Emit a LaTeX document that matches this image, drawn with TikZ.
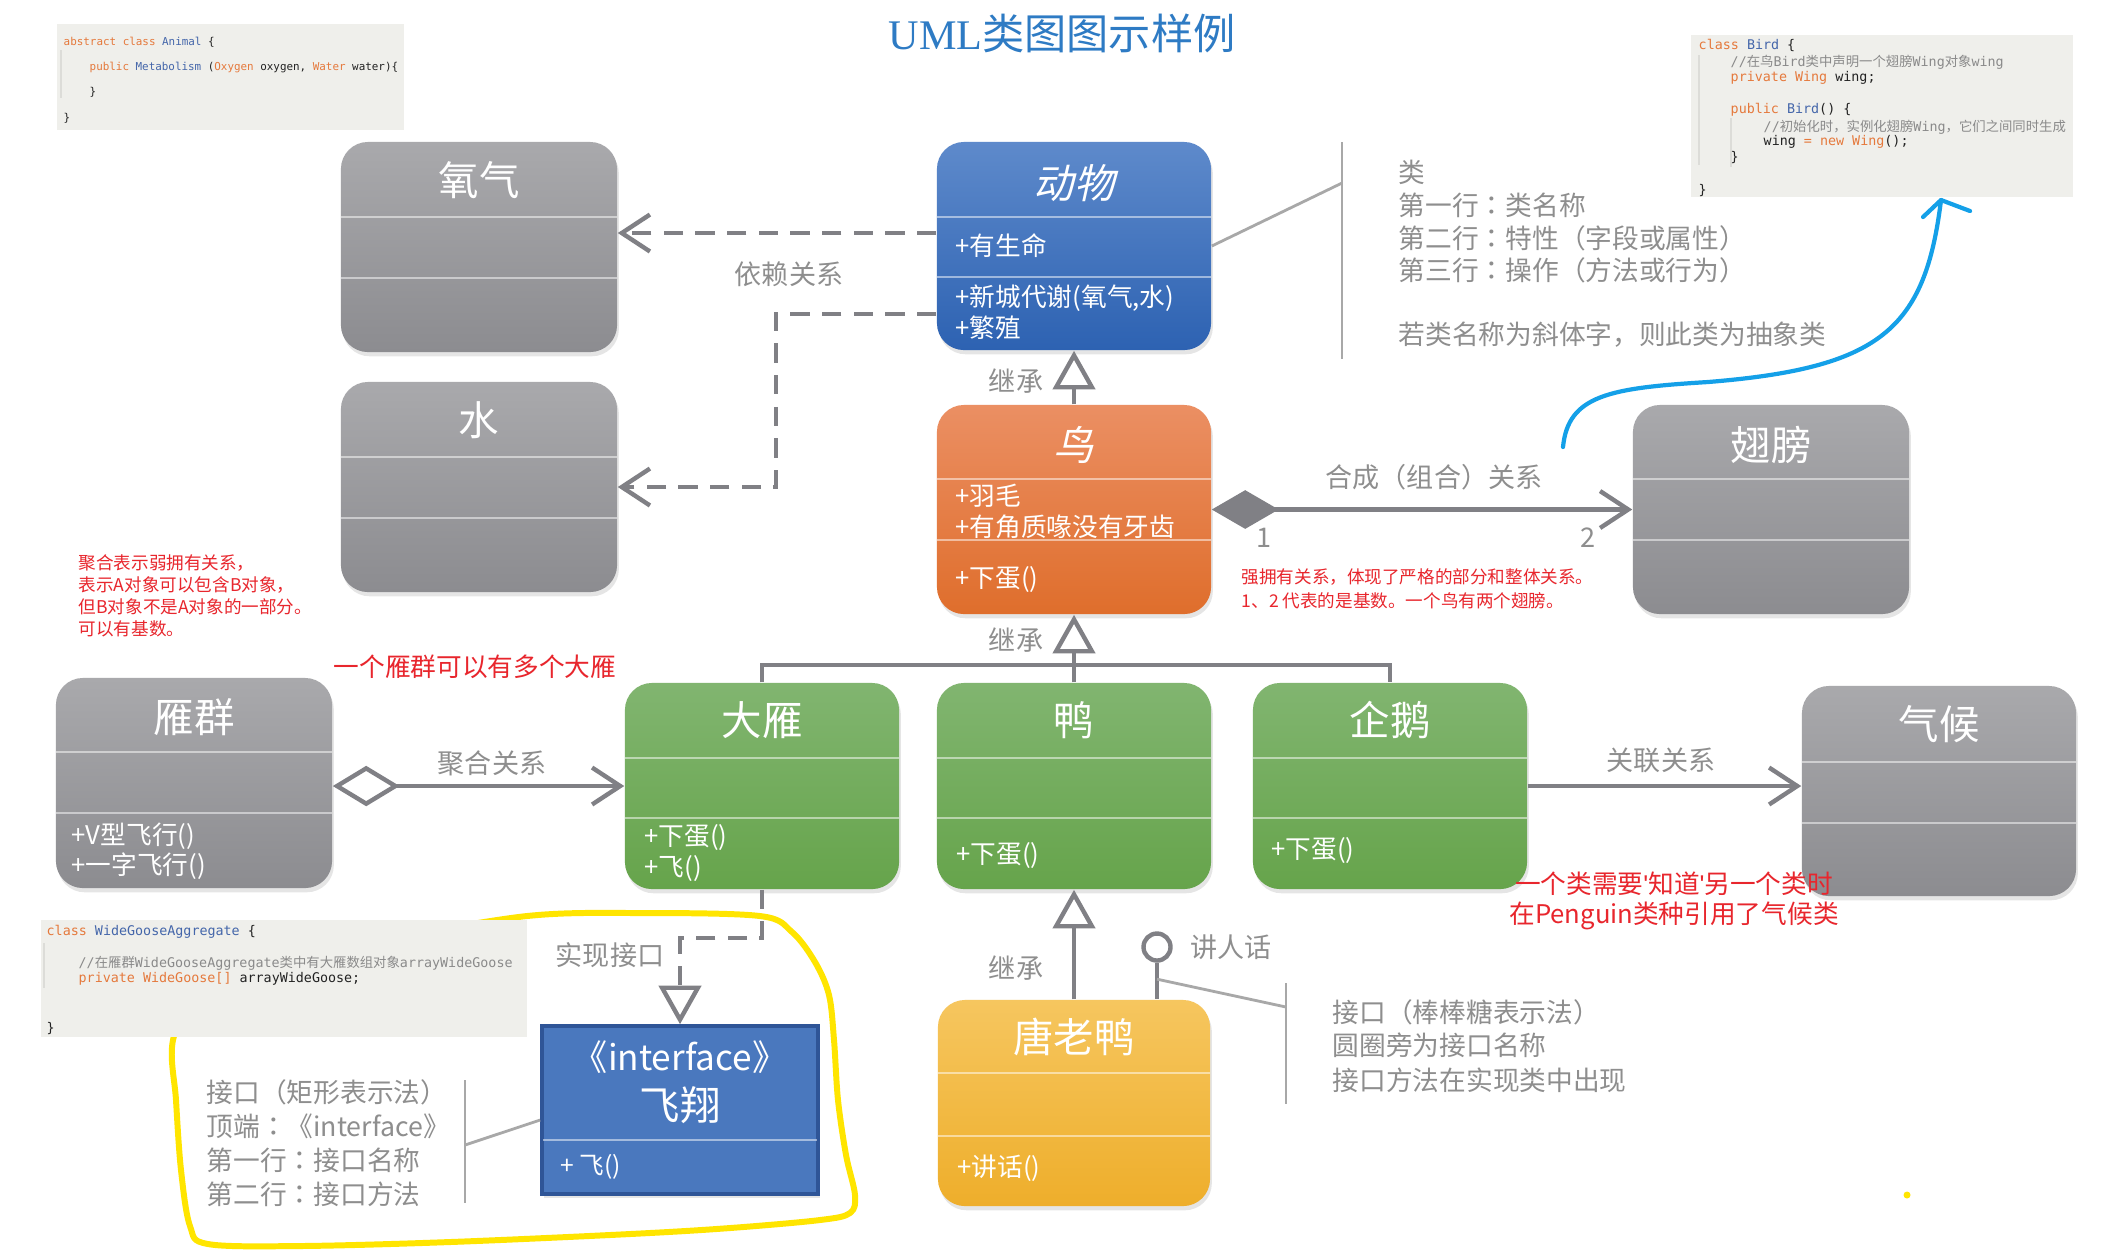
\documentclass[tikz,border=0pt]{standalone}
\usepackage{fontspec}
\setmainfont{Noto Sans CJK SC}
\newfontfamily\zhfont{Noto Sans CJK SC}
\newfontfamily\zhtc{Noto Sans CJK TC}
\newfontfamily\zhit[FakeSlant=0.22]{Noto Sans CJK SC}
\newfontfamily\codefont{DejaVu Sans Mono}
\newfontfamily\titleserif{Liberation Serif}
\newfontfamily\latq{Liberation Sans}
\usetikzlibrary{arrows.meta,shadows,calc}
\definecolor{grayT}{HTML}{A9A9AC}
\definecolor{grayB}{HTML}{8C8C90}
\definecolor{blueT}{HTML}{5E8ACB}
\definecolor{blueB}{HTML}{2D62B2}
\definecolor{orT}{HTML}{EB8F63}
\definecolor{orB}{HTML}{DF6E2C}
\definecolor{grT}{HTML}{81B570}
\definecolor{grB}{HTML}{66A44B}
\definecolor{yeT}{HTML}{F6C65F}
\definecolor{yeB}{HTML}{EEAE2B}
\definecolor{ifc}{HTML}{4A78BE}
\definecolor{ifcb}{HTML}{2F5597}
\definecolor{lineg}{HTML}{808085}
\definecolor{noteg}{HTML}{8E8E8E}
\definecolor{notel}{HTML}{A8A8A8}
\definecolor{redc}{HTML}{E8262D}
\definecolor{titlec}{HTML}{2E7BC4}
\definecolor{kwc}{HTML}{E5793C}
\definecolor{cnc}{HTML}{4466AA}
\definecolor{cmc}{HTML}{8A8A8A}
\definecolor{codeblack}{HTML}{222222}
\definecolor{codebg}{HTML}{EFEFEB}
\definecolor{guidec}{HTML}{DCDCD8}
\definecolor{yellowc}{HTML}{FFE500}
\definecolor{bluec}{HTML}{14A0E8}
\newcommand\zh[1]{{\zhfont #1}}
\newcommand\cln{{\zhtc ：}}
\newcommand\kwd[1]{\textcolor{kwc}{#1}}
\newcommand\cnm[1]{\textcolor{cnc}{#1}}
\newcommand\cmt[1]{\textcolor{cmc}{#1}}
\tikzset{
  openhd/.tip={Straight Barb[length=8pt,width=10.5pt]},
  inhtri/.tip={Triangle[open,length=11pt,width=12pt]},
  fdia/.tip={Diamond[length=19pt,width=11pt]},
  odia/.tip={Diamond[open,length=19pt,width=11.5pt]},
  cls/.style={rectangle, rounded corners=0.27cm, inner sep=0pt, draw=none,
    drop shadow={shadow xshift=0.5pt, shadow yshift=-1.2pt, opacity=0.2}},
  cname/.style={text=white, inner sep=0pt, font=\fontsize{11.5}{13}\selectfont},
  cnameit/.style={text=white, inner sep=0pt, font=\zhit\fontsize{11.5}{13}\selectfont},
  attr/.style={text=white, anchor=west, inner sep=0pt, font=\fontsize{7.3}{8.5}\selectfont},
  divline/.style={draw=white, draw opacity=0.5, line width=0.7pt},
  conn/.style={draw=lineg, line width=1.25pt},
  dashconn/.style={conn, dash pattern=on 5.5pt off 3.5pt},
  lbl/.style={text=noteg, inner sep=0pt, font=\fontsize{7.7}{9}\selectfont},
  note/.style={text=noteg, anchor=west, inner sep=0pt, font=\fontsize{7.6}{9}\selectfont},
  noteline/.style={draw=notel, line width=0.8pt},
  rednote/.style={text=redc, anchor=west, inner sep=0pt, font=\fontsize{5}{6}\selectfont},
  redbig/.style={text=redc, inner sep=0pt, font=\fontsize{7.3}{9}\selectfont},
  codebox/.style={rectangle, fill=codebg, draw=none, inner sep=0pt},
  codea/.style={anchor=west, inner sep=0pt, text=codeblack, font=\codefont\fontsize{3.1}{3.8}\selectfont},
  codeb/.style={anchor=west, inner sep=0pt, text=codeblack, font=\codefont\fontsize{3.8}{4.6}\selectfont},
  guide/.style={draw=guidec, line width=0.4pt},
  yellowline/.style={draw=yellowc, line width=1.7pt, line cap=round, line join=round},
  bluestroke/.style={draw=bluec, line width=1.2pt, line cap=round, line join=round}
}
\begin{document}
\begin{tikzpicture}[x=0.01cm,y=-0.01cm]
\fill[white] (0,0) rectangle (2125,1253);
\useasboundingbox (0,0) rectangle (2125,1253);

% yellow hand-drawn highlight (partly under the code box)
\draw[yellowline] plot[smooth, tension=0.55] coordinates {(380,940) (527,916) (640,913) (760,916) (792,932) (815,962) (829,995) (834,1040) (838,1100) (846,1155) (855,1195) (850,1213) (820,1220) (730,1228) (630,1234) (450,1242) (300,1246) (208,1244) (190,1226) (181,1170) (176,1100) (173,1040) (200,980)};
\node[circle, fill=yellowc, minimum size=0.07cm, inner sep=0pt] (ydot) at (1907,1195) {};

% title
\node[inner sep=0pt, text=titlec, font=\fontsize{12}{14}\selectfont] (title) at (1062,33) {{\titleserif UML}类图图示样例};

% ---- code boxes
\node[codebox, minimum width=3.47cm, minimum height=1.06cm] (animalcode) at (230.5,77) {};
\draw[guide] (61,50) -- (61,98);
\node[codea] (ta1) at (63,42) {\kwd{abstract class} \cnm{Animal} \{};
\node[codea] (ta2) at (89,67) {\kwd{public} \cnm{Metabolism} (\kwd{Oxygen} oxygen, \kwd{Water} water)\{};
\node[codea] (ta3) at (89,92) {\}};
\node[codea] (ta4) at (63,118) {\}};

\node[codebox, minimum width=3.82cm, minimum height=1.62cm] (birdcode) at (1882,116) {};
\draw[guide] (1699,55) -- (1699,165);
\draw[guide] (1731,118) -- (1731,167);
\node[codeb] (tb1) at (1698,45) {\kwd{class} \cnm{Bird} \{};
\node[codeb] (tb2) at (1730,62) {\cmt{//\zh{在鸟}Bird\zh{类中声明一个翅膀}Wing\zh{对象}wing}};
\node[codeb] (tb3) at (1730,78) {\kwd{private Wing} wing;};
\node[codeb] (tb4) at (1730,110) {\kwd{public} \cnm{Bird}() \{};
\node[codeb] (tb5) at (1763,127) {\cmt{//\zh{初始化时，实例化翅膀}Wing\zh{，它们之间同时生成}}};
\node[codeb] (tb6) at (1763,142) {wing \kwd{= new Wing}();};
\node[codeb] (tb7) at (1730,157) {\}};
\node[codeb] (tb8) at (1698,190) {\}};

\node[codebox, minimum width=4.86cm, minimum height=1.17cm] (goosecode) at (284,978.5) {};
\draw[guide] (44,943) -- (44,988);
\node[codeb] (tc1) at (46,932) {\kwd{class} \cnm{WideGooseAggregate} \{};
\node[codeb] (tc2) at (78,963) {\cmt{//\zh{在雁群}WideGooseAggregate\zh{类中有大雁数组对象}arrayWideGoose}};
\node[codeb] (tc3) at (78,979) {\kwd{private WideGoose[]} arrayWideGoose;};
\node[codeb] (tc4) at (46,1028) {\}};

% ---- annotation bars and texts
\draw[noteline] (1342,142) -- (1342,359);
\draw[noteline] (1286,983) -- (1286,1104);
\draw[noteline] (465,1080) -- (465,1203);

\node[note] (n1) at (1398,172) {类};
\node[note] (n2) at (1398,205) {第一行\cln 类名称};
\node[note] (n3) at (1398,238) {第二行\cln 特性（字段或属性）};
\node[note] (n4) at (1398,270) {第三行\cln 操作（方法或行为）};
\node[note] (n5) at (1398,335) {若类名称为斜体字，则此类为抽象类};

\node[note] (m1) at (1332,1012) {接口（棒棒糖表示法）};
\node[note] (m2) at (1332,1045) {圆圈旁为接口名称};
\node[note] (m3) at (1332,1080) {接口方法在实现类中出现};

\node[note] (k1) at (206,1092) {接口（矩形表示法）};
\node[note] (k2) at (206,1126) {顶端\cln 《interface》};
\node[note] (k3) at (206,1160) {第一行\cln 接口名称};
\node[note] (k4) at (206,1194) {第二行\cln 接口方法};

% ---- class boxes
\node[cls, top color=grayT, bottom color=grayB, minimum width=2.76cm, minimum height=2.10cm] (oxygen) at (479,247) {};
\draw[divline] (341,217) -- (617,217); \draw[divline] (341,278) -- (617,278);
\node[cname] (oxygenname) at (479,180) {氧气};

\node[cls, top color=grayT, bottom color=grayB, minimum width=2.76cm, minimum height=2.10cm] (water) at (479,487) {};
\draw[divline] (341,457) -- (617,457); \draw[divline] (341,518) -- (617,518);
\node[cname] (watername) at (479,420) {水};

\node[cls, top color=blueT, bottom color=blueB, minimum width=2.74cm, minimum height=2.08cm] (animal) at (1074,246) {};
\draw[divline] (937,217) -- (1211,217); \draw[divline] (937,277) -- (1211,277);
\node[cnameit] (animalname) at (1074,183) {动物};
\node[attr] (animala1) at (955,246) {+有生命};
\node[attr] (animalm1) at (955,298) {+新城代谢(氧气,水)};
\node[attr] (animalm2) at (955,328) {+繁殖};

\node[cls, top color=orT, bottom color=orB, minimum width=2.74cm, minimum height=2.09cm] (bird) at (1074,509.5) {};
\draw[divline] (937,479) -- (1211,479); \draw[divline] (937,540) -- (1211,540);
\node[cnameit] (birdname) at (1074,445) {鸟};
\node[attr] (birda1) at (955,496) {+羽毛};
\node[attr] (birda2) at (955,527) {+有角质喙没有牙齿};
\node[attr] (birdm1) at (955,579) {+下蛋()};

\node[cls, top color=grayT, bottom color=grayB, minimum width=2.76cm, minimum height=2.09cm] (wing) at (1771,509.5) {};
\draw[divline] (1633,479) -- (1909,479); \draw[divline] (1633,540) -- (1909,540);
\node[cname] (wingname) at (1771,445) {翅膀};

\node[cls, top color=grayT, bottom color=grayB, minimum width=2.76cm, minimum height=2.10cm] (flock) at (194,783) {};
\draw[divline] (56,752) -- (332,752); \draw[divline] (56,813) -- (332,813);
\node[cname] (flockname) at (194,717) {雁群};
\node[attr] (flockm1) at (71,836) {+V型飞行()};
\node[attr] (flockm2) at (71,866) {+一字飞行()};

\node[cls, top color=grT, bottom color=grB, minimum width=2.74cm, minimum height=2.06cm] (goose) at (762,786) {};
\draw[divline] (625,758) -- (899,758); \draw[divline] (625,818) -- (899,818);
\node[cname] (goosename) at (762,720) {大雁};
\node[attr] (goosem1) at (644,837) {+下蛋()};
\node[attr] (goosem2) at (644,868) {+飞()};

\node[cls, top color=grT, bottom color=grB, minimum width=2.74cm, minimum height=2.06cm] (duck) at (1074,786) {};
\draw[divline] (937,758) -- (1211,758); \draw[divline] (937,818) -- (1211,818);
\node[cname] (duckname) at (1074,720) {鸭};
\node[attr] (duckm1) at (956,855) {+下蛋()};

\node[cls, top color=grT, bottom color=grB, minimum width=2.74cm, minimum height=2.06cm] (penguin) at (1390,786) {};
\draw[divline] (1253,758) -- (1527,758); \draw[divline] (1253,818) -- (1527,818);
\node[cname] (penguinname) at (1390,720) {企鹅};
\node[attr] (penguinm1) at (1271,850) {+下蛋()};

\node[cls, top color=grayT, bottom color=grayB, minimum width=2.74cm, minimum height=2.10cm] (climate) at (1939,791) {};
\draw[divline] (1802,762) -- (2076,762); \draw[divline] (1802,823) -- (2076,823);
\node[cname] (climatename) at (1939,724) {气候};

\node[cls, top color=yeT, bottom color=yeB, minimum width=2.72cm, minimum height=2.06cm] (donald) at (1074,1103) {};
\draw[divline] (938,1073) -- (1210,1073); \draw[divline] (938,1136) -- (1210,1136);
\node[cname] (donaldname) at (1074,1037) {唐老鸭};
\node[attr] (donaldm1) at (957,1168) {+讲话()};

\node[rectangle, fill=ifc, draw=ifcb, line width=1pt, inner sep=0pt, minimum width=2.76cm, minimum height=1.68cm,
  drop shadow={shadow xshift=0.5pt, shadow yshift=-1.2pt, opacity=0.2}] (iface) at (680,1110) {};
\draw[divline] (543,1140) -- (817,1140);
\node[text=white, inner sep=0pt, font=\fontsize{10}{12}\selectfont] (ifacest) at (680,1057) {《interface》};
\node[cname] (ifacename) at (680,1105) {飞翔};
\node[attr, font=\fontsize{7}{8}\selectfont] (ifacem1) at (560,1167) {+ 飞()};

% ---- connectors
\coordinate (dep1s) at ([shift={(0,-13)}]animal.west);
\draw[dashconn, -openhd] (dep1s) -- (oxygen.east |- dep1s);
\coordinate (dep2s) at ([shift={(0,68)}]animal.west);
\draw[dashconn, -openhd] (dep2s) -| ([shift={(158,0)}]water.east) -- (water.east);

\draw[conn, -inhtri] (bird.north) -- (animal.south);
\draw[conn, -inhtri] (duck.north) -- (bird.south);
\coordinate (bar) at (1074,665);
\draw[conn] (goose.north) |- (bar) -| (penguin.north);

\draw[conn, fdia-openhd] (bird.east) -- (wing.west);
\draw[conn, odia-openhd] (flock.east |- goose.west) -- (goose.west);
\draw[conn, -openhd] (penguin.east) -- (climate.west |- penguin.east);
\draw[dashconn, -inhtri] (goose.south) |- ([shift={(0,-86)}]iface.north) -- (iface.north);
\draw[conn, -inhtri] (donald.north) -- (duck.south);

\node[circle, draw=lineg, line width=1.25pt, minimum size=0.27cm, inner sep=0pt] (lolli) at (1157,947) {};
\draw[conn] (lolli.south) -- (lolli.south |- donald.north);

% annotation leader lines
\coordinate (clsnote) at (1342,183);
\draw[noteline] (animal.east) -- (clsnote);
\coordinate (lolnote) at (1286,1007);
\draw[noteline] ($(lolli.south)!0.45!(lolli.south |- donald.north)$) -- (lolnote);
\coordinate (ifnote) at (465,1145);
\draw[noteline] (ifnote) -- ([shift={(0,10)}]iface.west);

% ---- connector labels
\node[lbl] (ldep) at (789,274) {依赖关系};
\node[lbl] (linh1) at (1016,381) {继承};
\node[lbl] (lcomp) at (1434,477) {合成（组合）关系};
\node[lbl] (lone) at (1264,538) {1};
\node[lbl] (ltwo) at (1588,538) {2};
\node[lbl] (linh2) at (1016,640) {继承};
\node[lbl] (lagg) at (492,763) {聚合关系};
\node[lbl] (lassoc) at (1661,760) {关联关系};
\node[lbl] (lreal) at (610,955) {实现接口};
\node[lbl] (linh3) at (1016,968) {继承};
\node[lbl] (lspeak) at (1231,947) {讲人话};

% ---- red notes
\node[rednote] (r1) at (78,563) {聚合表示弱拥有关系，};
\node[rednote] (r2) at (78,585) {表示A对象可以包含B对象，};
\node[rednote] (r3) at (78,607) {但B对象不是A对象的一部分。};
\node[rednote] (r4) at (78,629) {可以有基数。};
\node[redbig] (r5) at (475,667) {一个雁群可以有多个大雁};
\node[rednote] (r6) at (1241,577) {强拥有关系，体现了严格的部分和整体关系。};
\node[rednote] (r7) at (1241,601) {1、2 代表的是基数。一个鸟有两个翅膀。};
\node[redbig] (r8) at (1674,884) {一个类需要{\latq'}知道{\latq'}另一个类时};
\node[redbig] (r9) at (1674,916) {在Penguin类种引用了气候类};

% ---- blue hand-drawn arrow
\coordinate (bluestart) at (1563,447);
\coordinate (blueend) at (1941,200);
\coordinate (bluewl) at (1923,217);
\coordinate (bluewr) at (1970,211);
\draw[bluestroke] (bluestart) .. controls (1568,395) and (1610,388) .. (1708,382) .. controls (1880,368) and (1925,330) .. (blueend);
\draw[bluestroke] (bluewl) -- (blueend) -- (bluewr);
\end{tikzpicture}
\end{document}
